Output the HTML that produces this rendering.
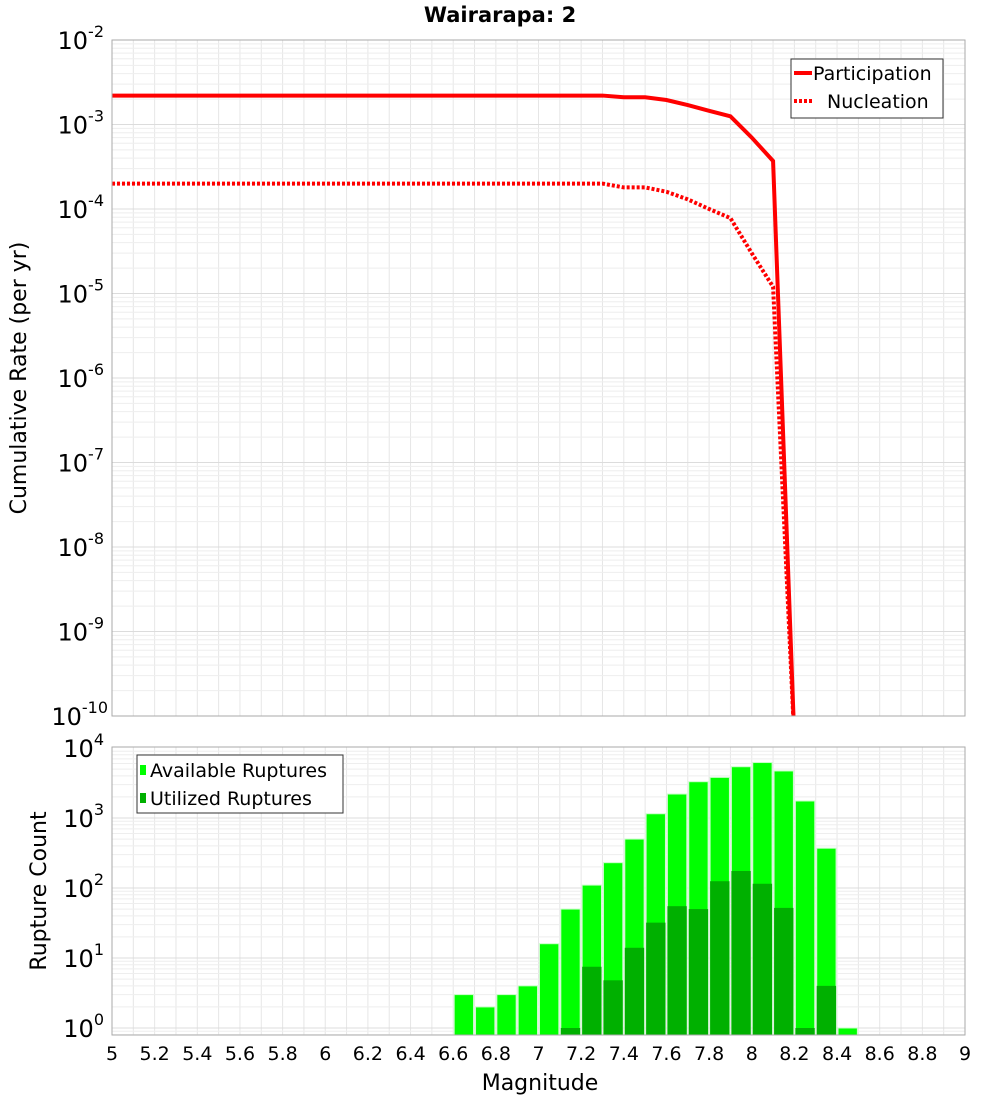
<!DOCTYPE html>
<html><head><meta charset="utf-8"><style>
body{margin:0;background:#fff;font-family:"Liberation Sans","DejaVu Sans",sans-serif}
svg text{font-family:"DejaVu Sans","Liberation Sans",sans-serif}
</style></head><body>
<svg id="c" width="1000" height="1100" xmlns="http://www.w3.org/2000/svg"></svg>
<script>
const mags=[5,7.3,7.4,7.5,7.6,7.7,7.8,7.9,8.0,8.1,8.2];
const partRate=[2.2e-3,2.2e-3,2.1e-3,2.1e-3,1.95e-3,1.7e-3,1.45e-3,1.25e-3,7e-4,3.7e-4,1e-18];
const nuclRate=[2e-4,2e-4,1.8e-4,1.8e-4,1.6e-4,1.3e-4,1.0e-4,7.8e-5,3e-5,1.2e-5,1e-18];
const binCenters=[6.65,6.75,6.85,6.95,7.05,7.15,7.25,7.35,7.45,7.55,7.65,7.75,7.85,7.95,8.05,8.15,8.25,8.35,8.45];
const available=[3,2,3,4,16,50,110,230,500,1150,2200,3300,3800,5400,6200,4700,1750,370,1];
const utilized=[0,0,0,0,0,1,7.5,4.8,14,32,55,50,125,175,115,52,1,4,0];
const xTicks=["5","5.2","5.4","5.6","5.8","6","6.2","6.4","6.6","6.8","7","7.2","7.4","7.6","7.8","8","8.2","8.4","8.6","8.8","9"];
const topExps=[-2,-3,-4,-5,-6,-7,-8,-9,-10];
const botExps=[4,3,2,1,0];

const NS="http://www.w3.org/2000/svg",svg=document.getElementById('c');
function mk(t,a,p){const e=document.createElementNS(NS,t);for(const k in a)e.setAttribute(k,a[k]);(p||svg).appendChild(e);return e;}
const X0=112,X1=965;
const x=m=>X0+(m-5)/4*(X1-X0);
const T0=40,T1=716;
const yT=v=>{const l=Math.max(Math.log10(v),-10.3);return T0+(-2-l)*(T1-T0)/8;};
const B0=747,B1=1035;
const yB=v=>1028-70*Math.log10(v);

function grid(top,bot,decades){
  const g=mk('g',{});
  for(let m=5;m<=9.001;m+=0.1)mk('line',{x1:x(m),x2:x(m),y1:top,y2:bot,stroke:'#e6e6e6','stroke-width':1},g);
  decades.forEach(f=>{for(let k=1;k<=9;k++){const y=f(k);if(y>=top&&y<=bot)mk('line',{x1:X0,x2:X1,y1:y,y2:y,stroke:k==1?'#dcdcdc':'#eeeeee','stroke-width':1},g);}});
}
// top plot
grid(T0,T1,[-3,-4,-5,-6,-7,-8,-9,-10,-11].map(e=>k=>yT(k*Math.pow(10,e))));
// bottom plot
grid(B0,B1,[-1,0,1,2,3].map(e=>k=>yB(k*Math.pow(10,e))));

// top lines
const clip=mk('clipPath',{id:'cp'});mk('rect',{x:X0,y:T0,width:X1-X0,height:T1-T0},clip);
const pts=a=>mags.map((m,i)=>x(m)+','+yT(a[i])).join(' ');
let l=mk('polyline',{points:pts(partRate),fill:'none',stroke:'#ff0000','stroke-width':4,'clip-path':'url(#cp)'});

l=mk('polyline',{points:pts(nuclRate),fill:'none',stroke:'#ff0000','stroke-width':4,'stroke-dasharray':'3,2','clip-path':'url(#cp)'});


// bars
binCenters.forEach((c,i)=>{
  const xl=x(c-0.05)+1,w=x(c+0.05)-x(c-0.05)-2;
  let r=mk('rect',{x:xl,y:yB(available[i]),width:w,height:B1-yB(available[i]),fill:'#00ff00',stroke:'#c8ffc8','stroke-width':1});
  
  if(utilized[i]>0){r=mk('rect',{x:xl,y:yB(utilized[i]),width:w,height:B1-yB(utilized[i]),fill:'#00b000'});
  }
});

// frames
mk('rect',{x:X0,y:T0,width:X1-X0,height:T1-T0,fill:'none',stroke:'#aaa','stroke-width':1});
mk('rect',{x:X0,y:B0,width:X1-X0,height:B1-B0,fill:'none',stroke:'#aaa','stroke-width':1});

// y tick labels
function pow(xr,y,e,name){const t=mk('text',{x:xr,y:y,'font-size':24,'text-anchor':'end',fill:'#000'});
  
  t.textContent='10';const s=mk('tspan',{dy:-12,'font-size':16},t);s.textContent=String(e);}
topExps.forEach(e=>pow(e<=-10?108:104,yT(Math.pow(10,e))+9,e,'y-tick-label'));
botExps.forEach(e=>pow(104,yB(Math.pow(10,e))+9,e,'y-tick-label'));
// x ticks
xTicks.forEach(s=>{const t=mk('text',{x:x(+s),y:1060,'font-size':19,'text-anchor':'middle'});t.textContent=s;
  });

function txt(s,a,name){const t=mk('text',a);t.textContent=s;return t;}
txt('Wairarapa: 2',{x:500,y:22,'font-size':21,'font-weight':'bold','text-anchor':'middle'},'chart-title');
txt('Magnitude',{x:540,y:1090,'font-size':22,'text-anchor':'middle'},'x-axis-title');
txt('Cumulative Rate (per yr)',{x:0,y:0,'font-size':22,'text-anchor':'middle',transform:'translate(26,378) rotate(-90)'},'y-axis-title-top');
txt('Rupture Count',{x:0,y:0,'font-size':22,'text-anchor':'middle',transform:'translate(46,891) rotate(-90)'},'y-axis-title-bottom');

// legends
let g=mk('g',{});
mk('rect',{x:791,y:59,width:152,height:59,fill:'#fff',stroke:'#333'},g);
mk('line',{x1:794,x2:812,y1:73,y2:73,stroke:'#f00','stroke-width':4},g);
mk('line',{x1:794,x2:812,y1:101,y2:101,stroke:'#f00','stroke-width':4,'stroke-dasharray':'3,2'},g);
let t=mk('text',{x:813,y:80,'font-size':19},g);t.textContent='Participation';
t=mk('text',{x:827,y:108,'font-size':19},g);t.textContent='Nucleation';
g=mk('g',{});
mk('rect',{x:137,y:755,width:206,height:58,fill:'#fff',stroke:'#333'},g);
mk('rect',{x:140,y:765,width:6,height:10,fill:'#00ff00'},g);
mk('rect',{x:140,y:793,width:6,height:10,fill:'#00b000'},g);
t=mk('text',{x:150,y:777,'font-size':19},g);t.textContent='Available Ruptures';
t=mk('text',{x:150,y:805,'font-size':19},g);t.textContent='Utilized Ruptures';
</script>
</body></html>
